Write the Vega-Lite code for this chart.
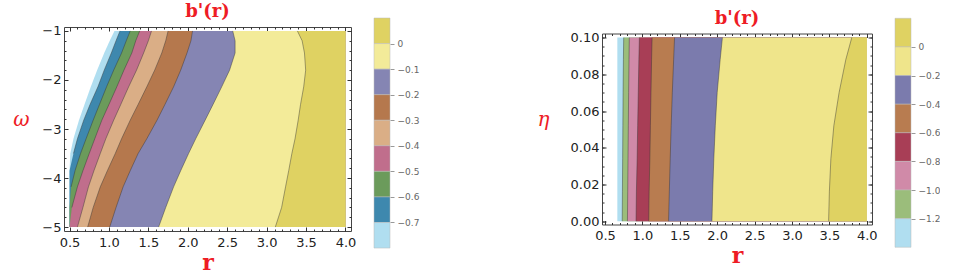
{
  "$schema": "https://vega.github.io/schema/vega-lite/v6.json",
  "background": "white",
  "padding": {"left": 12, "top": 2, "right": 0, "bottom": 0},
  "config": {
    "view": {"stroke": "#444", "strokeWidth": 1},
    "axis": {"grid": false, "domain": false, "labelFont": "DejaVu Sans", "labelFontSize": 13, "labelColor": "#222", "tickColor": "#333", "labelFlush": false},
    "title": {"font": "DejaVu Serif", "fontWeight": "bold", "fontSize": 18, "color": "#ee1c25", "anchor": "middle", "offset": 4}
  },
  "datasets": {
    "left_bands": [
      {"lvl":"L0","w":-5,"r":0.5},{"lvl":"L0","w":-4.6,"r":0.5},{"lvl":"L0","w":-4.18,"r":0.5},{"lvl":"L0","w":-3.85,"r":0.5},{"lvl":"L0","w":-3.5,"r":0.51},{"lvl":"L0","w":-3.2,"r":0.55},{"lvl":"L0","w":-2.82,"r":0.62},{"lvl":"L0","w":-2.5,"r":0.69},{"lvl":"L0","w":-2.14,"r":0.77},{"lvl":"L0","w":-1.8,"r":0.85},{"lvl":"L0","w":-1.45,"r":0.94},{"lvl":"L0","w":-1.2,"r":1.01},{"lvl":"L0","w":-1,"r":1.07},
      {"lvl":"L1","w":-5,"r":0.5},{"lvl":"L1","w":-4.6,"r":0.5},{"lvl":"L1","w":-4.18,"r":0.5},{"lvl":"L1","w":-3.85,"r":0.5},{"lvl":"L1","w":-3.5,"r":0.55},{"lvl":"L1","w":-3.2,"r":0.6},{"lvl":"L1","w":-2.82,"r":0.68},{"lvl":"L1","w":-2.5,"r":0.76},{"lvl":"L1","w":-2.14,"r":0.86},{"lvl":"L1","w":-1.8,"r":0.94},{"lvl":"L1","w":-1.45,"r":1.03},{"lvl":"L1","w":-1.2,"r":1.09},{"lvl":"L1","w":-1,"r":1.14},
      {"lvl":"L2","w":-5,"r":0.5},{"lvl":"L2","w":-4.6,"r":0.5},{"lvl":"L2","w":-4.18,"r":0.52},{"lvl":"L2","w":-3.85,"r":0.57},{"lvl":"L2","w":-3.5,"r":0.64},{"lvl":"L2","w":-3.2,"r":0.71},{"lvl":"L2","w":-2.82,"r":0.8},{"lvl":"L2","w":-2.5,"r":0.88},{"lvl":"L2","w":-2.14,"r":0.97},{"lvl":"L2","w":-1.8,"r":1.06},{"lvl":"L2","w":-1.45,"r":1.16},{"lvl":"L2","w":-1.2,"r":1.22},{"lvl":"L2","w":-1,"r":1.27},
      {"lvl":"L3","w":-5,"r":0.5},{"lvl":"L3","w":-4.6,"r":0.53},{"lvl":"L3","w":-4.18,"r":0.6},{"lvl":"L3","w":-3.85,"r":0.67},{"lvl":"L3","w":-3.5,"r":0.75},{"lvl":"L3","w":-3.2,"r":0.82},{"lvl":"L3","w":-2.82,"r":0.91},{"lvl":"L3","w":-2.5,"r":1.0},{"lvl":"L3","w":-2.14,"r":1.1},{"lvl":"L3","w":-1.8,"r":1.19},{"lvl":"L3","w":-1.45,"r":1.29},{"lvl":"L3","w":-1.2,"r":1.34},{"lvl":"L3","w":-1,"r":1.39},
      {"lvl":"L4","w":-5,"r":0.6},{"lvl":"L4","w":-4.6,"r":0.67},{"lvl":"L4","w":-4.18,"r":0.74},{"lvl":"L4","w":-3.85,"r":0.81},{"lvl":"L4","w":-3.5,"r":0.89},{"lvl":"L4","w":-3.2,"r":0.96},{"lvl":"L4","w":-2.82,"r":1.06},{"lvl":"L4","w":-2.5,"r":1.15},{"lvl":"L4","w":-2.14,"r":1.25},{"lvl":"L4","w":-1.8,"r":1.35},{"lvl":"L4","w":-1.45,"r":1.44},{"lvl":"L4","w":-1.2,"r":1.5},{"lvl":"L4","w":-1,"r":1.54},
      {"lvl":"L5","w":-5,"r":0.73},{"lvl":"L5","w":-4.6,"r":0.8},{"lvl":"L5","w":-4.18,"r":0.89},{"lvl":"L5","w":-3.85,"r":0.98},{"lvl":"L5","w":-3.5,"r":1.08},{"lvl":"L5","w":-3.2,"r":1.16},{"lvl":"L5","w":-2.82,"r":1.27},{"lvl":"L5","w":-2.5,"r":1.37},{"lvl":"L5","w":-2.14,"r":1.48},{"lvl":"L5","w":-1.8,"r":1.58},{"lvl":"L5","w":-1.45,"r":1.67},{"lvl":"L5","w":-1.2,"r":1.72},{"lvl":"L5","w":-1,"r":1.75},
      {"lvl":"L6","w":-5,"r":1.01},{"lvl":"L6","w":-4.6,"r":1.09},{"lvl":"L6","w":-4.18,"r":1.18},{"lvl":"L6","w":-3.85,"r":1.27},{"lvl":"L6","w":-3.5,"r":1.37},{"lvl":"L6","w":-3.2,"r":1.48},{"lvl":"L6","w":-2.82,"r":1.61},{"lvl":"L6","w":-2.5,"r":1.71},{"lvl":"L6","w":-2.14,"r":1.82},{"lvl":"L6","w":-1.8,"r":1.91},{"lvl":"L6","w":-1.45,"r":1.99},{"lvl":"L6","w":-1.2,"r":2.04},{"lvl":"L6","w":-1,"r":2.06},
      {"lvl":"L7","w":-5,"r":1.63},{"lvl":"L7","w":-4.6,"r":1.72},{"lvl":"L7","w":-4.18,"r":1.82},{"lvl":"L7","w":-3.85,"r":1.91},{"lvl":"L7","w":-3.5,"r":2.01},{"lvl":"L7","w":-3.2,"r":2.1},{"lvl":"L7","w":-2.82,"r":2.22},{"lvl":"L7","w":-2.5,"r":2.32},{"lvl":"L7","w":-2.14,"r":2.43},{"lvl":"L7","w":-1.8,"r":2.53},{"lvl":"L7","w":-1.45,"r":2.6},{"lvl":"L7","w":-1.2,"r":2.6},{"lvl":"L7","w":-1,"r":2.57},
      {"lvl":"L8","w":-5,"r":3.11},{"lvl":"L8","w":-4.6,"r":3.19},{"lvl":"L8","w":-4.18,"r":3.24},{"lvl":"L8","w":-3.85,"r":3.28},{"lvl":"L8","w":-3.5,"r":3.32},{"lvl":"L8","w":-3.2,"r":3.36},{"lvl":"L8","w":-2.82,"r":3.4},{"lvl":"L8","w":-2.5,"r":3.43},{"lvl":"L8","w":-2.14,"r":3.47},{"lvl":"L8","w":-1.8,"r":3.495},{"lvl":"L8","w":-1.45,"r":3.48},{"lvl":"L8","w":-1.2,"r":3.45},{"lvl":"L8","w":-1,"r":3.39}
    ],
    "right_bands": [
      {"lvl":"R0","e":0,"r":0.665},{"lvl":"R0","e":0.016,"r":0.665},{"lvl":"R0","e":0.034,"r":0.665},{"lvl":"R0","e":0.052,"r":0.665},{"lvl":"R0","e":0.07,"r":0.665},{"lvl":"R0","e":0.088,"r":0.665},{"lvl":"R0","e":0.1,"r":0.665},
      {"lvl":"R1","e":0,"r":0.73},{"lvl":"R1","e":0.016,"r":0.733},{"lvl":"R1","e":0.034,"r":0.736},{"lvl":"R1","e":0.052,"r":0.739},{"lvl":"R1","e":0.07,"r":0.742},{"lvl":"R1","e":0.088,"r":0.746},{"lvl":"R1","e":0.1,"r":0.75},
      {"lvl":"R2","e":0,"r":0.8},{"lvl":"R2","e":0.016,"r":0.804},{"lvl":"R2","e":0.034,"r":0.808},{"lvl":"R2","e":0.052,"r":0.812},{"lvl":"R2","e":0.07,"r":0.816},{"lvl":"R2","e":0.088,"r":0.821},{"lvl":"R2","e":0.1,"r":0.825},
      {"lvl":"R3","e":0,"r":0.915},{"lvl":"R3","e":0.016,"r":0.92},{"lvl":"R3","e":0.034,"r":0.93},{"lvl":"R3","e":0.052,"r":0.937},{"lvl":"R3","e":0.07,"r":0.945},{"lvl":"R3","e":0.088,"r":0.953},{"lvl":"R3","e":0.1,"r":0.96},
      {"lvl":"R4","e":0,"r":1.085},{"lvl":"R4","e":0.016,"r":1.09},{"lvl":"R4","e":0.034,"r":1.1},{"lvl":"R4","e":0.052,"r":1.107},{"lvl":"R4","e":0.07,"r":1.115},{"lvl":"R4","e":0.088,"r":1.123},{"lvl":"R4","e":0.1,"r":1.13},
      {"lvl":"R5","e":0,"r":1.35},{"lvl":"R5","e":0.016,"r":1.36},{"lvl":"R5","e":0.034,"r":1.372},{"lvl":"R5","e":0.052,"r":1.385},{"lvl":"R5","e":0.07,"r":1.4},{"lvl":"R5","e":0.088,"r":1.418},{"lvl":"R5","e":0.1,"r":1.43},
      {"lvl":"R6","e":0,"r":1.93},{"lvl":"R6","e":0.016,"r":1.94},{"lvl":"R6","e":0.034,"r":1.955},{"lvl":"R6","e":0.052,"r":1.975},{"lvl":"R6","e":0.07,"r":2.0},{"lvl":"R6","e":0.088,"r":2.04},{"lvl":"R6","e":0.1,"r":2.07},
      {"lvl":"R7","e":0,"r":3.49},{"lvl":"R7","e":0.016,"r":3.5},{"lvl":"R7","e":0.034,"r":3.52},{"lvl":"R7","e":0.052,"r":3.56},{"lvl":"R7","e":0.07,"r":3.63},{"lvl":"R7","e":0.088,"r":3.72},{"lvl":"R7","e":0.1,"r":3.8}
    ],
    "left_cbar": [
      {"lvl":"L8","lo":0,"hi":0.1},{"lvl":"L7","lo":-0.1,"hi":0},{"lvl":"L6","lo":-0.2,"hi":-0.1},{"lvl":"L5","lo":-0.3,"hi":-0.2},{"lvl":"L4","lo":-0.4,"hi":-0.3},{"lvl":"L3","lo":-0.5,"hi":-0.4},{"lvl":"L2","lo":-0.6,"hi":-0.5},{"lvl":"L1","lo":-0.7,"hi":-0.6},{"lvl":"L0","lo":-0.8,"hi":-0.7}
    ],
    "right_cbar": [
      {"lvl":"R7","lo":0,"hi":0.2},{"lvl":"R6","lo":-0.2,"hi":0},{"lvl":"R5","lo":-0.4,"hi":-0.2},{"lvl":"R4","lo":-0.6,"hi":-0.4},{"lvl":"R3","lo":-0.8,"hi":-0.6},{"lvl":"R2","lo":-1.0,"hi":-0.8},{"lvl":"R1","lo":-1.2,"hi":-1.0},{"lvl":"R0","lo":-1.4,"hi":-1.2}
    ]
  },
  "resolve": {"scale": {"x": "independent", "y": "independent", "color": "independent"}},
  "bounds": "flush",
  "center": true,
  "spacing": 23,
  "hconcat": [
    {
      "width": 287, "height": 204,
      "title": "b'(r)",
      "resolve": {"axis": {"x": "independent", "y": "independent"}},
      "layer": [
        {
          "data": {"name": "left_bands"},
          "mark": {"type": "area", "orient": "horizontal"},
          "encoding": {
            "y": {"field": "w", "type": "quantitative", "scale": {"domain": [-5.08, -0.92], "nice": false, "zero": false},
                  "axis": {"orient": "left", "values": [-1, -2, -3, -4, -5], "format": "d", "tickSize": -4, "labelPadding": 7,
                           "title": "ω", "titleFont": "DejaVu Serif", "titleFontStyle": "italic", "titleFontWeight": "normal", "titleFontSize": 20, "titleColor": "#ee1c25", "titleAngle": 0, "titlePadding": 21}},
            "x": {"field": "r", "type": "quantitative", "stack": null, "scale": {"domain": [0.43, 4.07], "nice": false, "zero": false},
                  "axis": {"orient": "bottom", "values": [0.5, 1, 1.5, 2, 2.5, 3, 3.5, 4], "format": ".1f", "tickSize": -4, "labelPadding": 9,
                           "title": "r", "titleFont": "DejaVu Serif", "titleFontWeight": "bold", "titleFontSize": 22, "titleColor": "#ee1c25", "titlePadding": 3}},
            "x2": {"datum": 4},
            "color": {"field": "lvl", "type": "nominal", "legend": null,
                      "scale": {"domain": ["L0","L1","L2","L3","L4","L5","L6","L7","L8"],
                                "range": ["#b0def0","#3e88ae","#6b9b5b","#c06e8c","#daae86","#b5784d","#8585b3","#f3eb99","#dfd262"]}}
          }
        },
        {
          "data": {"name": "left_bands"},
          "transform": [{"filter": "datum.lvl != 'L0' && datum.r > 0.5"}],
          "mark": {"type": "line", "color": "#333", "strokeWidth": 0.8, "opacity": 0.55},
          "encoding": {
            "y": {"field": "w", "type": "quantitative", "scale": {"domain": [-5.08, -0.92], "nice": false, "zero": false},
                  "axis": {"orient": "left", "values": [-1,-1.2,-1.4,-1.6,-1.8,-2,-2.2,-2.4,-2.6,-2.8,-3,-3.2,-3.4,-3.6,-3.8,-4,-4.2,-4.4,-4.6,-4.8,-5], "labels": false, "title": null, "tickSize": -2}},
            "x": {"field": "r", "type": "quantitative", "scale": {"domain": [0.43, 4.07], "nice": false, "zero": false},
                  "axis": {"orient": "bottom", "values": [0.5,0.6,0.7,0.8,0.9,1,1.1,1.2,1.3,1.4,1.5,1.6,1.7,1.8,1.9,2,2.1,2.2,2.3,2.4,2.5,2.6,2.7,2.8,2.9,3,3.1,3.2,3.3,3.4,3.5,3.6,3.7,3.8,3.9,4], "labels": false, "title": null, "tickSize": -2}},
            "detail": {"field": "lvl"},
            "order": {"field": "w"}
          }
        },
        {
          "data": {"name": "left_bands"},
          "mark": {"type": "line", "opacity": 0},
          "encoding": {
            "y": {"field": "w", "type": "quantitative", "scale": {"domain": [-5.08, -0.92], "nice": false, "zero": false},
                  "axis": {"orient": "right", "values": [-1, -2, -3, -4, -5], "labels": false, "title": null, "tickSize": -4}},
            "x": {"field": "r", "type": "quantitative", "scale": {"domain": [0.43, 4.07], "nice": false, "zero": false},
                  "axis": {"orient": "top", "values": [0.5, 1, 1.5, 2, 2.5, 3, 3.5, 4], "labels": false, "title": null, "tickSize": -4}},
            "detail": {"field": "lvl"}
          }
        },
        {
          "data": {"name": "left_bands"},
          "mark": {"type": "line", "opacity": 0},
          "encoding": {
            "y": {"field": "w", "type": "quantitative", "scale": {"domain": [-5.08, -0.92], "nice": false, "zero": false},
                  "axis": {"orient": "right", "values": [-1,-1.2,-1.4,-1.6,-1.8,-2,-2.2,-2.4,-2.6,-2.8,-3,-3.2,-3.4,-3.6,-3.8,-4,-4.2,-4.4,-4.6,-4.8,-5], "labels": false, "title": null, "tickSize": -2}},
            "x": {"field": "r", "type": "quantitative", "scale": {"domain": [0.43, 4.07], "nice": false, "zero": false},
                  "axis": {"orient": "top", "values": [0.5,0.6,0.7,0.8,0.9,1,1.1,1.2,1.3,1.4,1.5,1.6,1.7,1.8,1.9,2,2.1,2.2,2.3,2.4,2.5,2.6,2.7,2.8,2.9,3,3.1,3.2,3.3,3.4,3.5,3.6,3.7,3.8,3.9,4], "labels": false, "title": null, "tickSize": -2}},
            "detail": {"field": "lvl"}
          }
        }
      ]
    },
    {
      "width": 16, "height": 204,
      "view": {"stroke": null},
      "data": {"name": "left_cbar"},
      "mark": {"type": "rect", "stroke": "#bbbbbb", "strokeWidth": 0.5},
      "encoding": {
        "y": {"field": "lo", "type": "quantitative", "scale": {"domain": [-0.7333, 0.0648], "nice": false, "zero": false},
              "axis": {"orient": "right", "values": [0, -0.1, -0.2, -0.3, -0.4, -0.5, -0.6, -0.7], "labelExpr": "datum.value == 0 ? '0' : format(datum.value, '.1f')",
                       "title": null, "tickSize": 4, "tickColor": "#999", "labelColor": "#666", "labelFontSize": 9, "labelPadding": 3}},
        "y2": {"field": "hi"},
        "color": {"field": "lvl", "type": "nominal", "legend": null,
                  "scale": {"domain": ["L0","L1","L2","L3","L4","L5","L6","L7","L8"],
                            "range": ["#b0def0","#3e88ae","#6b9b5b","#c06e8c","#daae86","#b5784d","#8585b3","#f3eb99","#dfd262"]}}
      }
    },
    {
      "width": 166, "height": 10,
      "view": {"stroke": null},
      "data": {"values": [{}]},
      "mark": {"type": "point", "opacity": 0}
    },
    {
      "width": 270, "height": 191,
      "title": "b'(r)",
      "resolve": {"axis": {"x": "independent", "y": "independent"}},
      "layer": [
        {
          "data": {"name": "right_bands"},
          "mark": {"type": "area", "orient": "horizontal"},
          "encoding": {
            "y": {"field": "e", "type": "quantitative", "scale": {"domain": [-0.0018, 0.1022], "nice": false, "zero": false},
                  "axis": {"orient": "left", "values": [0, 0.02, 0.04, 0.06, 0.08, 0.1], "format": ".2f", "tickSize": -4, "labelPadding": 7,
                           "title": "η", "titleFont": "DejaVu Serif", "titleFontStyle": "italic", "titleFontWeight": "normal", "titleFontSize": 20, "titleColor": "#ee1c25", "titleAngle": 0, "titlePadding": 27}},
            "x": {"field": "r", "type": "quantitative", "stack": null, "scale": {"domain": [0.46, 4.07], "nice": false, "zero": false},
                  "axis": {"orient": "bottom", "values": [0.5, 1, 1.5, 2, 2.5, 3, 3.5, 4], "format": ".1f", "tickSize": -4, "labelPadding": 9,
                           "title": "r", "titleFont": "DejaVu Serif", "titleFontWeight": "bold", "titleFontSize": 22, "titleColor": "#ee1c25", "titlePadding": 3}},
            "x2": {"datum": 4},
            "color": {"field": "lvl", "type": "nominal", "legend": null,
                      "scale": {"domain": ["R0","R1","R2","R3","R4","R5","R6","R7"],
                                "range": ["#b0def0","#9bbd7b","#d08aa8","#a83e56","#b87c50","#7b7bad","#efe58b","#dfd262"]}}
          }
        },
        {
          "data": {"name": "right_bands"},
          "transform": [{"filter": "datum.lvl != 'R0'"}],
          "mark": {"type": "line", "color": "#333", "strokeWidth": 0.8, "opacity": 0.55},
          "encoding": {
            "y": {"field": "e", "type": "quantitative", "scale": {"domain": [-0.0018, 0.1022], "nice": false, "zero": false},
                  "axis": {"orient": "left", "values": [0,0.005,0.01,0.015,0.02,0.025,0.03,0.035,0.04,0.045,0.05,0.055,0.06,0.065,0.07,0.075,0.08,0.085,0.09,0.095,0.1], "labels": false, "title": null, "tickSize": -2}},
            "x": {"field": "r", "type": "quantitative", "scale": {"domain": [0.46, 4.07], "nice": false, "zero": false},
                  "axis": {"orient": "bottom", "values": [0.5,0.6,0.7,0.8,0.9,1,1.1,1.2,1.3,1.4,1.5,1.6,1.7,1.8,1.9,2,2.1,2.2,2.3,2.4,2.5,2.6,2.7,2.8,2.9,3,3.1,3.2,3.3,3.4,3.5,3.6,3.7,3.8,3.9,4], "labels": false, "title": null, "tickSize": -2}},
            "detail": {"field": "lvl"},
            "order": {"field": "e"}
          }
        },
        {
          "data": {"name": "right_bands"},
          "mark": {"type": "line", "opacity": 0},
          "encoding": {
            "y": {"field": "e", "type": "quantitative", "scale": {"domain": [-0.0018, 0.1022], "nice": false, "zero": false},
                  "axis": {"orient": "right", "values": [0, 0.02, 0.04, 0.06, 0.08, 0.1], "labels": false, "title": null, "tickSize": -4}},
            "x": {"field": "r", "type": "quantitative", "scale": {"domain": [0.46, 4.07], "nice": false, "zero": false},
                  "axis": {"orient": "top", "values": [0.5, 1, 1.5, 2, 2.5, 3, 3.5, 4], "labels": false, "title": null, "tickSize": -4}},
            "detail": {"field": "lvl"}
          }
        },
        {
          "data": {"name": "right_bands"},
          "mark": {"type": "line", "opacity": 0},
          "encoding": {
            "y": {"field": "e", "type": "quantitative", "scale": {"domain": [-0.0018, 0.1022], "nice": false, "zero": false},
                  "axis": {"orient": "right", "values": [0,0.005,0.01,0.015,0.02,0.025,0.03,0.035,0.04,0.045,0.05,0.055,0.06,0.065,0.07,0.075,0.08,0.085,0.09,0.095,0.1], "labels": false, "title": null, "tickSize": -2}},
            "x": {"field": "r", "type": "quantitative", "scale": {"domain": [0.46, 4.07], "nice": false, "zero": false},
                  "axis": {"orient": "top", "values": [0.5,0.6,0.7,0.8,0.9,1,1.1,1.2,1.3,1.4,1.5,1.6,1.7,1.8,1.9,2,2.1,2.2,2.3,2.4,2.5,2.6,2.7,2.8,2.9,3,3.1,3.2,3.3,3.4,3.5,3.6,3.7,3.8,3.9,4], "labels": false, "title": null, "tickSize": -2}},
            "detail": {"field": "lvl"}
          }
        }
      ]
    },
    {
      "width": 16, "height": 204,
      "view": {"stroke": null},
      "data": {"name": "right_cbar"},
      "mark": {"type": "rect", "stroke": "#bbbbbb", "strokeWidth": 0.5},
      "encoding": {
        "y": {"field": "lo", "type": "quantitative", "scale": {"domain": [-1.2864, 0.1392], "nice": false, "zero": false},
              "axis": {"orient": "right", "values": [0, -0.2, -0.4, -0.6, -0.8, -1.0, -1.2], "labelExpr": "datum.value == 0 ? '0' : format(datum.value, '.1f')",
                       "title": null, "tickSize": 4, "tickColor": "#999", "labelColor": "#666", "labelFontSize": 9, "labelPadding": 3}},
        "y2": {"field": "hi"},
        "color": {"field": "lvl", "type": "nominal", "legend": null,
                  "scale": {"domain": ["R0","R1","R2","R3","R4","R5","R6","R7"],
                            "range": ["#b0def0","#9bbd7b","#d08aa8","#a83e56","#b87c50","#7b7bad","#efe58b","#dfd262"]}}
      }
    }
  ]
}
